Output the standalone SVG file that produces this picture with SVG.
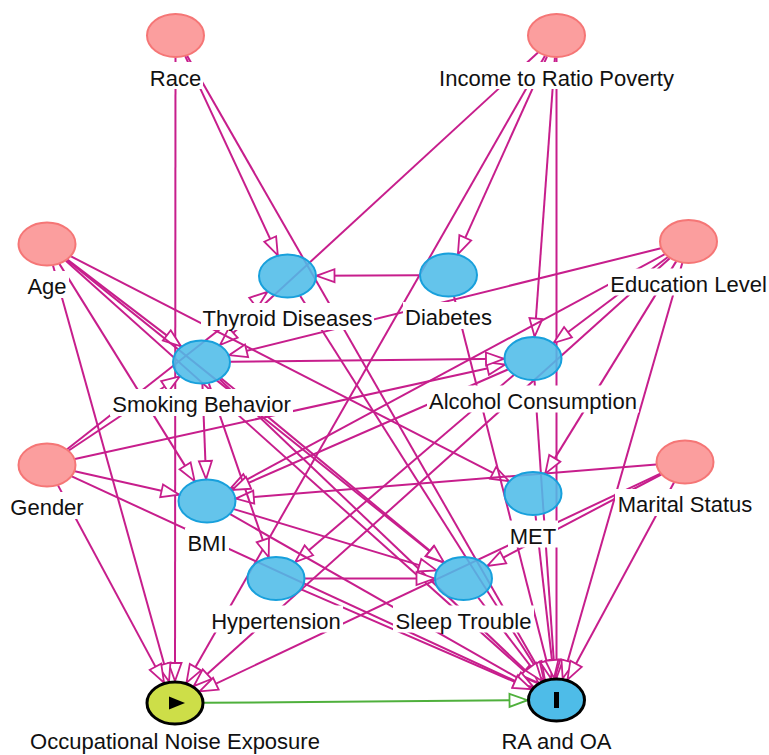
<svg xmlns="http://www.w3.org/2000/svg" width="769" height="755" viewBox="0 0 769 755">
<style>
.e{stroke:#c71e8c;stroke-width:2;fill:none;marker-end:url(#a)}
.g{stroke:#4fb03c;stroke-width:2;fill:none;marker-end:url(#ag)}
.pk{fill:#fb9e9e;stroke:#f57676;stroke-width:2}
.bl{fill:#4ebce8;fill-opacity:0.88;stroke:#18a0dc;stroke-width:2}
.lb{fill:#fff}
text{font-family:"Liberation Sans",Arial,sans-serif;font-size:22px;fill:#111;text-anchor:middle}
</style>
<defs>
<marker id="a" markerUnits="userSpaceOnUse" markerWidth="22" markerHeight="17" refX="19" refY="7.5" orient="auto" overflow="visible"><path d="M1,1 L19,7.5 L1,14 z" fill="#fff" stroke="#c71e8c" stroke-width="1.8"/></marker>
<marker id="ag" markerUnits="userSpaceOnUse" markerWidth="22" markerHeight="17" refX="19" refY="7.5" orient="auto" overflow="visible"><path d="M1,1 L19,7.5 L1,14 z" fill="#fff" stroke="#4fb03c" stroke-width="1.8"/></marker>
</defs>
<rect width="769" height="755" fill="#fff"/>
<g id="edges">
<line class="e" x1="175.5" y1="57.5" x2="175" y2="681"/>
<line class="e" x1="185.2" y1="56.2" x2="277.8" y2="255.3"/>
<line class="e" x1="187.1" y1="55.7" x2="544.9" y2="679.8"/>
<line class="e" x1="538" y1="52.5" x2="220" y2="345"/>
<line class="e" x1="547.1" y1="56.3" x2="457.9" y2="254.2"/>
<line class="e" x1="554.9" y1="57.5" x2="534.6" y2="336.5"/>
<line class="e" x1="556.5" y1="57.5" x2="556.5" y2="678"/>
<line class="e" x1="545" y1="55.7" x2="186.5" y2="682.8"/>
<line class="e" x1="67.4" y1="259.6" x2="181.1" y2="346.4"/>
<line class="e" x1="71" y1="256.3" x2="509" y2="481.2"/>
<line class="e" x1="59.4" y1="263.9" x2="194.6" y2="481.1"/>
<line class="e" x1="53" y1="265.5" x2="169" y2="681.5"/>
<line class="e" x1="65.8" y1="260.8" x2="537.8" y2="683.2"/>
<line class="e" x1="66.9" y1="260" x2="443.6" y2="562.5"/>
<line class="e" x1="67.1" y1="449.2" x2="267.4" y2="291.8"/>
<line class="e" x1="68.8" y1="450.5" x2="179.7" y2="376.5"/>
<line class="e" x1="74.9" y1="458.9" x2="505.1" y2="364.6"/>
<line class="e" x1="74.8" y1="471.3" x2="179.2" y2="494.7"/>
<line class="e" x1="58" y1="485.4" x2="164" y2="682.6"/>
<line class="e" x1="71.8" y1="476.4" x2="531.7" y2="688.6"/>
<line class="e" x1="660.9" y1="248.3" x2="229.1" y2="355.2"/>
<line class="e" x1="667.9" y1="257" x2="553.6" y2="343"/>
<line class="e" x1="664.9" y1="254.2" x2="230.6" y2="488.3"/>
<line class="e" x1="676.2" y1="261.4" x2="545.3" y2="473.6"/>
<line class="e" x1="669.8" y1="258.3" x2="193.7" y2="686.2"/>
<line class="e" x1="682.3" y1="263" x2="562.7" y2="678.5"/>
<line class="e" x1="656.2" y1="464.4" x2="235.8" y2="498.6"/>
<line class="e" x1="661.2" y1="474.5" x2="487.3" y2="566"/>
<line class="e" x1="660.4" y1="473.6" x2="199.6" y2="691.4"/>
<line class="e" x1="674" y1="482.4" x2="567.5" y2="679.6"/>
<line class="e" x1="419.5" y1="275.2" x2="316.5" y2="275.8"/>
<line class="e" x1="454" y1="296.6" x2="551" y2="678.4"/>
<line class="e" x1="300.1" y1="295.8" x2="543.9" y2="680.2"/>
<line class="e" x1="230.5" y1="361.7" x2="504" y2="358.8"/>
<line class="e" x1="202.4" y1="384" x2="206.1" y2="479"/>
<line class="e" x1="208.8" y1="383.3" x2="268.7" y2="557.2"/>
<line class="e" x1="221.1" y1="378.2" x2="443.9" y2="562.3"/>
<line class="e" x1="219.6" y1="379.2" x2="538.4" y2="682.8"/>
<line class="e" x1="507.9" y1="369.5" x2="232.1" y2="490"/>
<line class="e" x1="513.8" y1="375" x2="295.2" y2="562"/>
<line class="e" x1="534.5" y1="380.5" x2="555" y2="678"/>
<line class="e" x1="233.9" y1="509.1" x2="436.6" y2="570.4"/>
<line class="e" x1="230.2" y1="514.2" x2="533.3" y2="686.8"/>
<line class="e" x1="305" y1="578.5" x2="434.5" y2="578.5"/>
<line class="e" x1="301.2" y1="589.4" x2="531.3" y2="689.1"/>
<line class="e" x1="535.5" y1="515.4" x2="554" y2="678.1"/>
<line class="e" x1="478.1" y1="597.5" x2="541.9" y2="681"/>
<line class="g" x1="204" y1="702.8" x2="527.5" y2="700.2"/>
</g>
<g id="race"><rect class="lb" x="148" y="62" width="55" height="27"/><ellipse class="pk" cx="175.5" cy="35.5" rx="28.5" ry="21.5"/><text x="175.5" y="85.5">Race</text></g>
<g id="income"><rect class="lb" x="437" y="62" width="239" height="27"/><ellipse class="pk" cx="556.5" cy="35.5" rx="28.5" ry="21.5"/><text x="556.5" y="85.5">Income to Ratio Poverty</text></g>
<g id="age"><rect class="lb" x="25" y="271" width="44" height="27"/><ellipse class="pk" cx="47" cy="244" rx="28.5" ry="21.5"/><text x="47" y="294">Age</text></g>
<g id="thyroid"><rect class="lb" x="201" y="303" width="173" height="27"/><ellipse class="bl" cx="287.5" cy="276" rx="28.5" ry="21.5"/><text x="287.5" y="326">Thyroid Diseases</text></g>
<g id="diabetes"><rect class="lb" x="403" y="302" width="91" height="27"/><ellipse class="bl" cx="448.5" cy="275" rx="28.5" ry="21.5"/><text x="448.5" y="325">Diabetes</text></g>
<g id="education"><rect class="lb" x="608" y="268.5" width="161" height="27"/><ellipse class="pk" cx="688.5" cy="241.5" rx="28.5" ry="21.5"/><text x="688.5" y="291.5">Education Level</text></g>
<g id="smoking"><rect class="lb" x="110" y="389" width="183" height="27"/><ellipse class="bl" cx="201.5" cy="362" rx="28.5" ry="21.5"/><text x="201.5" y="412">Smoking Behavior</text></g>
<g id="alcohol"><rect class="lb" x="427" y="385.5" width="212" height="27"/><ellipse class="bl" cx="533" cy="358.5" rx="28.5" ry="21.5"/><text x="533" y="408.5">Alcohol Consumption</text></g>
<g id="gender"><rect class="lb" x="8" y="492" width="78" height="27"/><ellipse class="pk" cx="47" cy="465" rx="28.5" ry="21.5"/><text x="47" y="515">Gender</text></g>
<g id="bmi"><rect class="lb" x="185" y="528" width="44" height="27"/><ellipse class="bl" cx="207" cy="501" rx="28.5" ry="21.5"/><text x="207" y="551">BMI</text></g>
<g id="met"><rect class="lb" x="508" y="520.5" width="50" height="27"/><ellipse class="bl" cx="533" cy="493.5" rx="28.5" ry="21.5"/><text x="533" y="543.5">MET</text></g>
<g id="marital"><rect class="lb" x="615" y="489" width="140" height="27"/><ellipse class="pk" cx="685" cy="462" rx="28.5" ry="21.5"/><text x="685" y="512">Marital Status</text></g>
<g id="hypertension"><rect class="lb" x="209" y="605.5" width="134" height="27"/><ellipse class="bl" cx="276" cy="578.5" rx="28.5" ry="21.5"/><text x="276" y="628.5">Hypertension</text></g>
<g id="sleep"><rect class="lb" x="393" y="605.5" width="141" height="27"/><ellipse class="bl" cx="463.5" cy="578.5" rx="28.5" ry="21.5"/><text x="463.5" y="628.5">Sleep Trouble</text></g>
<g id="noise"><rect class="lb" x="28" y="727" width="294" height="27"/><ellipse cx="175" cy="703" rx="28" ry="21" fill="#cdde48" stroke="#000" stroke-width="3"/><polygon points="169,696.5 185,703 169,709.5" fill="#000"/><text x="175" y="749">Occupational Noise Exposure</text></g>
<g id="ra"><rect class="lb" x="499" y="727" width="115" height="27"/><ellipse cx="556.5" cy="700" rx="28" ry="21" fill="#4ebce8" stroke="#000" stroke-width="3"/><rect x="554" y="692" width="5" height="16" fill="#000"/><text x="556.5" y="749">RA and OA</text></g>
</svg>
